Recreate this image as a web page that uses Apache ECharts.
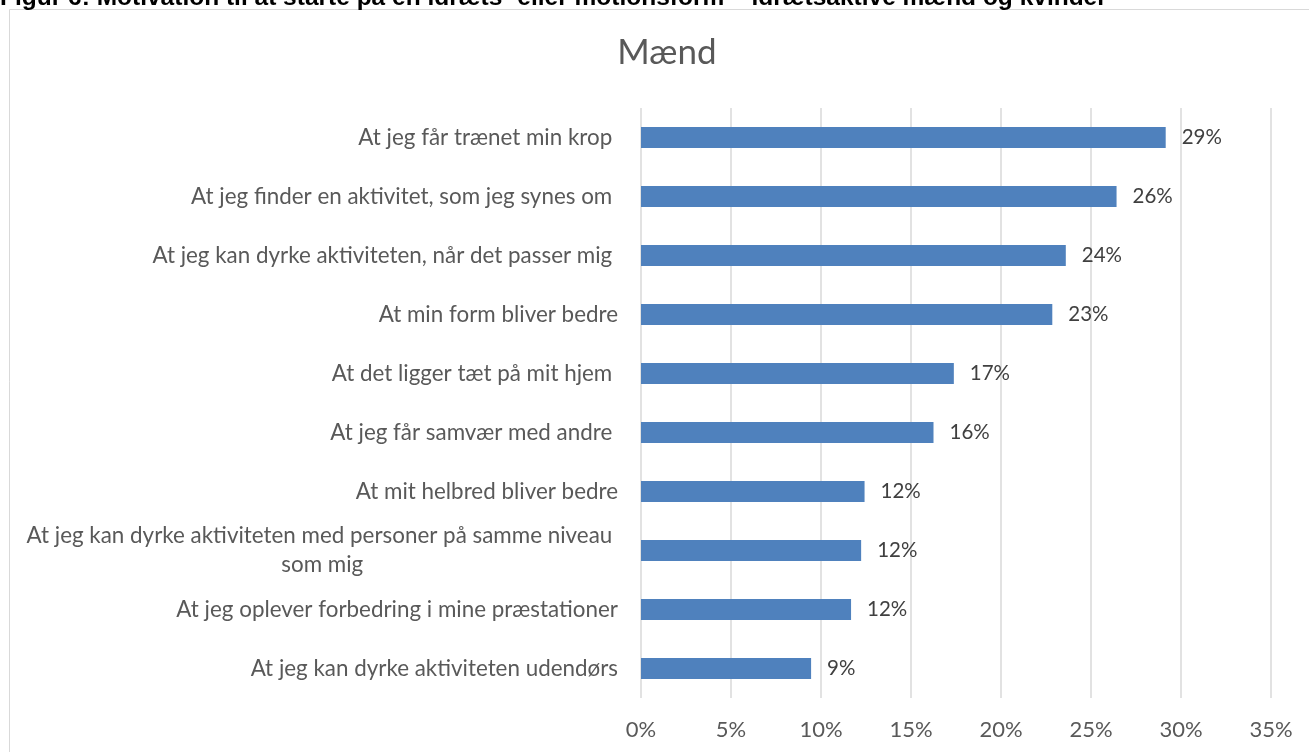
<!DOCTYPE html>
<html>
<head>
<meta charset="utf-8">
<script src="https://cdn.jsdelivr.net/npm/echarts@6/dist/echarts.min.js"></script>
<style>
html,body{margin:0;padding:0;background:#fff;}
#chart{width:1309px;height:752px;}
</style>
</head>
<body>
<div id="chart"></div>
<script>
const heading = 'Figur 6: Motivation til at starte på en idræts- eller motionsform – idrætsaktive mænd og kvinder';
const chartTitle = 'Mænd';
const categories = [
  'At jeg får trænet min krop ',
  'At jeg finder en aktivitet, som jeg synes om ',
  'At jeg kan dyrke aktiviteten, når det passer mig ',
  'At min form bliver bedre',
  'At det ligger tæt på mit hjem ',
  'At jeg får samvær med andre ',
  'At mit helbred bliver bedre',
  'At jeg kan dyrke aktiviteten med personer på samme niveau \nsom mig',
  'At jeg oplever forbedring i mine præstationer',
  'At jeg kan dyrke aktiviteten udendørs'
];
const values = [29.15, 26.42, 23.6, 22.85, 17.38, 16.25, 12.42, 12.23, 11.67, 9.45];
const tickMin = 0, tickMax = 35, tickStep = 5;

const FONT = 'Lato';
const CAT_SIZE = 22.4;
const TICK_SIZE = 22;
const DATA_SIZE = 20.5;

function measure(text, font) {
  const c = document.createElement('canvas').getContext('2d');
  c.font = font;
  return c.measureText(text).width;
}

const chart = echarts.init(document.getElementById('chart'), null, {renderer: 'canvas'});
const option = {
  backgroundColor: '#ffffff',
  animation: false,
  graphic: [
    {
      type: 'rect',
      shape: {x: 9.5, y: 9.5, width: 1340, height: 800},
      style: {fill: 'none', stroke: '#d9d9d9', lineWidth: 1},
      silent: true
    },
    {
      type: 'text',
      x: 0, y: -2,
      style: {
        text: heading,
        font: 'bold 24.5px "Liberation Sans", Arial, sans-serif',
        fill: '#000000',
        align: 'left',
        verticalAlign: 'middle'
      }
    },
    {
      type: 'text',
      x: 667, y: 53,
      style: {
        text: chartTitle,
        font: '35px ' + FONT,
        fill: '#595959',
        align: 'center',
        verticalAlign: 'middle'
      }
    }
  ],
  grid: {left: 641, right: 38, top: 108, bottom: 54, containLabel: false},
  xAxis: {
    type: 'value',
    min: tickMin, max: tickMax, interval: tickStep,
    axisLine: {show: false},
    axisTick: {show: false},
    splitLine: {show: true, lineStyle: {color: '#d9d9d9', width: 1.5}},
    axisLabel: {
      formatter: '{value}%',
      color: '#595959',
      fontFamily: FONT,
      fontSize: TICK_SIZE,
      margin: 21
    }
  },
  yAxis: {
    type: 'category',
    inverse: true,
    data: categories,
    axisLine: {show: false},
    axisTick: {show: false},
    axisLabel: {
      color: '#595959',
      fontFamily: FONT,
      fontSize: CAT_SIZE,
      margin: 23,
      align: 'right',
      formatter: function (v) {
        if (v.indexOf('\n') >= 0) return '{w|' + v + '}';
        return v;
      },
      rich: {
        w: {
          width: measure(categories[7].split('\n')[0], CAT_SIZE + 'px ' + FONT),
          align: 'center',
          lineHeight: 29,
          color: '#595959',
          fontFamily: FONT,
          fontSize: CAT_SIZE
        }
      }
    }
  },
  series: [{
    type: 'bar',
    data: values,
    barWidth: 21,
    itemStyle: {color: '#4f81bd'},
    label: {
      show: true,
      position: 'right',
      distance: 16,
      color: '#404040',
      fontFamily: FONT,
      fontSize: DATA_SIZE,
      formatter: function (p) { return Math.round(p.value) + '%'; }
    }
  }]
};
chart.setOption(option);
</script>
</body>
</html>
